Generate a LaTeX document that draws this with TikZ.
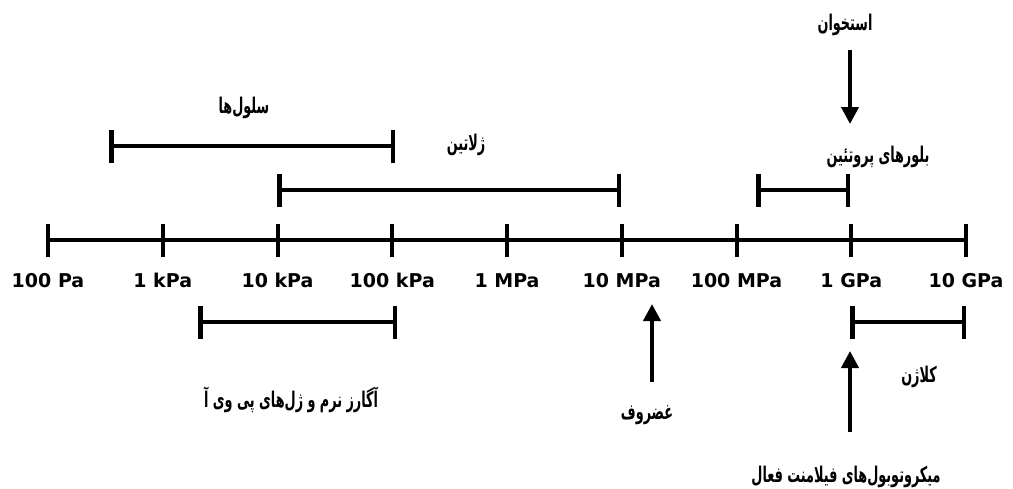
\documentclass[tikz,border=0pt]{standalone}
\usepackage{fontspec}
\setmainfont{DejaVu Sans}
\newfontfamily\fa[Script=Arabic]{DejaVu Sans}
\TeXXeTstate=1
\usetikzlibrary{arrows.meta}
\newcommand{\fatext}[1]{\scalebox{0.8}[1.35]{\beginR #1\endR}}
\tikzset{
  axisline/.style={line width=4.5pt},
  tickmark/.style={line width=4pt},
  rangebar/.style={line width=4.5pt,{Bar[width=33pt,line width=4.5pt]}-{Bar[width=33pt,line width=4.5pt]}},
  pointer/.style={line width=4pt,-{Triangle[width=17pt,length=17pt]}},
  scalelabel/.style={font=\bfseries\fontsize{19}{19}\selectfont,inner sep=0pt,anchor=base},
  falabel/.style={font=\fa\bfseries\fontsize{16}{16}\selectfont,inner sep=0pt}
}
\begin{document}
\begin{tikzpicture}[x=1pt,y=-1pt]
\useasboundingbox (0,0) rectangle (1013,488);
% axis
\foreach \i/\t in {0/100 Pa,1/1 kPa,2/10 kPa,3/100 kPa,4/1 MPa,5/10 MPa,6/100 MPa,7/1 GPa,8/10 GPa}{
  \coordinate (t\i) at ({48+114.75*\i},240);
  \draw[tickmark] ([yshift=16pt]t\i) -- ([yshift=-17pt]t\i);
  \node[scalelabel] (l\i) at ({48+114.75*\i},287) {\t};
}
\draw[axisline] (t0) -- (t8);
% cells
\coordinate (cA) at (109,146); \coordinate (cB) at (395,146);
\draw[rangebar] (cA) -- (cB);
\node[falabel] (cells) at (244,108) {\fatext{سلول‌ها}};
% gelatin
\coordinate (gA) at (277,190); \coordinate (gB) at (621,190);
\draw[rangebar] (gA) -- (gB);
\node[falabel] (gel) at (466,145) {\fatext{ژلاتین}};
% protein crystals
\coordinate (pA) at (756,190); \coordinate (pB) at (850,190);
\draw[rangebar] (pA) -- (pB);
\node[falabel] (prot) at (878,157) {\fatext{بلورهای پروتئین}};
% bone
\node[falabel] (bone) at (845,25) {\fatext{استخوان}};
\coordinate (bS) at (850,50); \coordinate (bE) at (850,124);
\draw[pointer] (bS) -- (bE);
% agarose
\coordinate (aA) at (198,322); \coordinate (aB) at (397,322);
\draw[rangebar] (aA) -- (aB);
\node[falabel] (agar) at (291,400) {\fatext{آگارز نرم و ژل‌های پی وی آ}};
% cartilage
\coordinate (rS) at (652,382); \coordinate (rE) at (652,304);
\draw[pointer] (rS) -- (rE);
\node[falabel] (cart) at (647,415) {\fatext{غضروف}};
% collagen
\coordinate (kA) at (850,322); \coordinate (kB) at (966,322);
\draw[rangebar] (kA) -- (kB);
\node[falabel] (coll) at (919,377) {\fatext{کلاژن}};
% microtubules
\coordinate (mS) at (850,432); \coordinate (mE) at (850,351);
\draw[pointer] (mS) -- (mE);
\node[falabel] (micro) at (846,477) {\fatext{میکروتوبول‌های فیلامنت فعال}};
\end{tikzpicture}
\end{document}
